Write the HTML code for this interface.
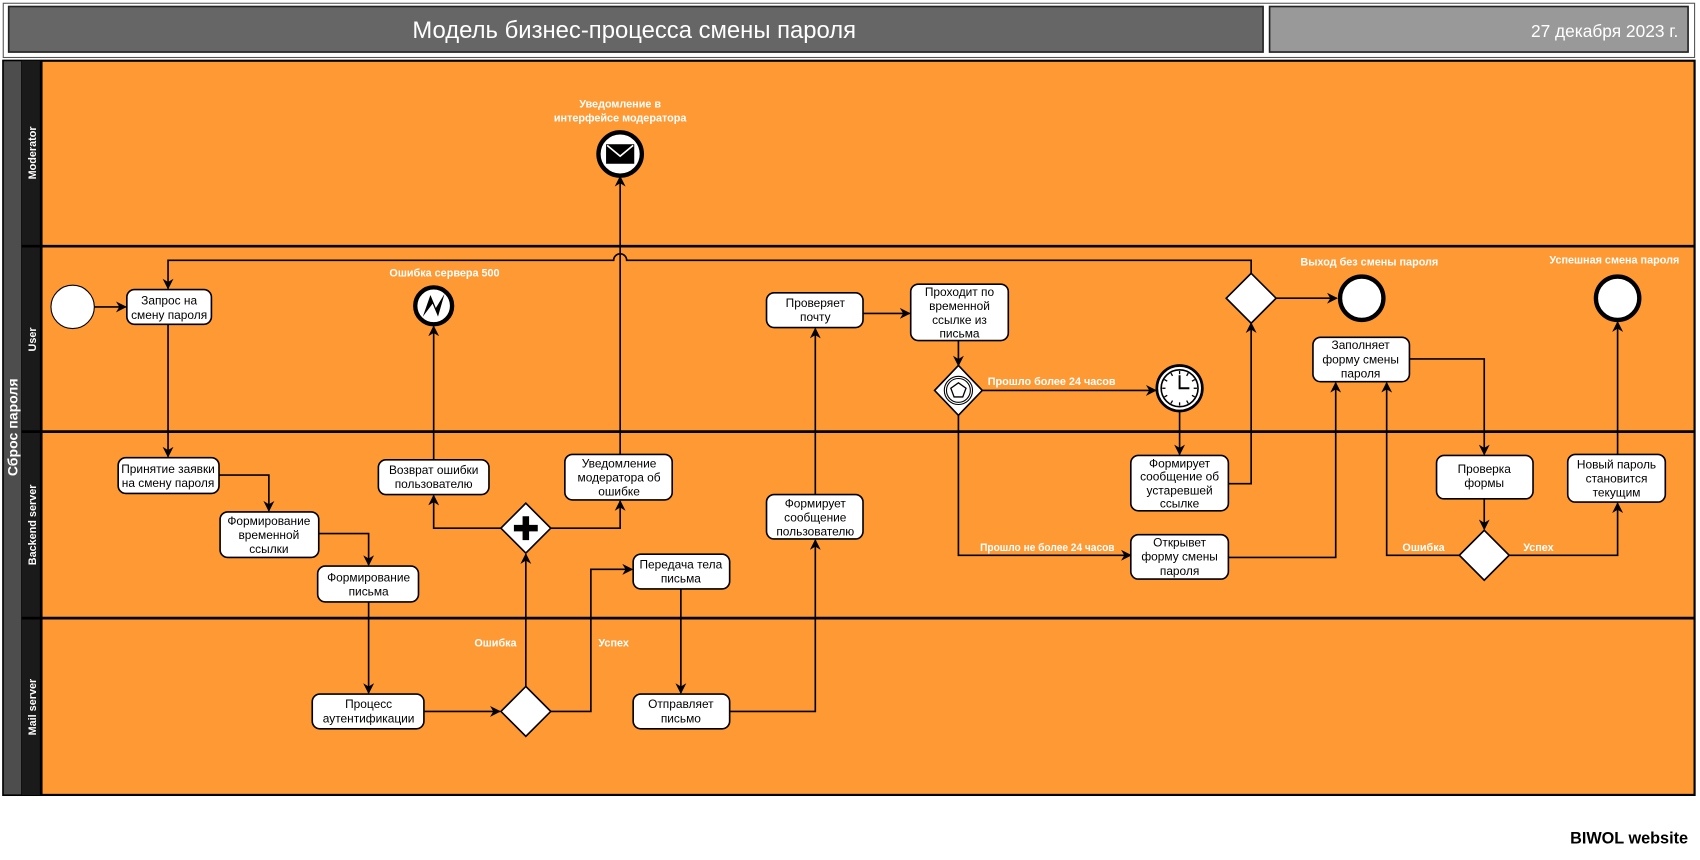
<!DOCTYPE html>
<html><head><meta charset="utf-8"><style>
html,body{margin:0;padding:0;background:#fff;}
svg{display:block;}
.b{fill:#fff;stroke:#000;stroke-width:1.5;}
.t{font-family:"Liberation Sans",sans-serif;font-size:11px;fill:#000;text-anchor:middle;}
.l{font-family:"Liberation Sans",sans-serif;font-size:10px;font-weight:bold;fill:#fff;text-anchor:middle;}
.c{fill:none;stroke:#000;stroke-width:1.5;}
</style></head><body>
<svg width="1700" height="860" viewBox="0 0 1568 793" preserveAspectRatio="none" xmlns="http://www.w3.org/2000/svg">
<defs><marker id="a" markerWidth="10" markerHeight="10" refX="9" refY="5" orient="auto" markerUnits="userSpaceOnUse"><path d="M0,0 L10,5 L0,10 L3,5 z" fill="#000"/></marker></defs>
<rect x="0" y="0" width="1568" height="793" fill="#fff"/>
<!-- header -->
<rect x="3" y="3" width="1560" height="50" fill="#fff" stroke="#555" stroke-width="1"/>
<rect x="8" y="6" width="1157" height="42" fill="#666" stroke="#222" stroke-width="1.5"/>
<text x="585" y="35" font-family="Liberation Sans,sans-serif" font-size="22" fill="#fff" text-anchor="middle">Модель бизнес-процесса смены пароля</text>
<rect x="1171" y="6" width="386" height="42" fill="#999" stroke="#222" stroke-width="1.5"/>
<text x="1548" y="34" font-family="Liberation Sans,sans-serif" font-size="16" fill="#fff" text-anchor="end">27 декабря 2023 г.</text>
<!-- pool -->
<rect x="3" y="56" width="1560" height="677" fill="#ff9933" stroke="#000" stroke-width="2"/>
<rect x="3" y="56" width="17" height="677" fill="#4d4d4d" stroke="#000" stroke-width="1"/>
<rect x="20" y="56" width="18" height="677" fill="#1a1a1a"/>
<g stroke="#000" stroke-width="2.5">
<line x1="20" y1="227" x2="1563" y2="227"/><line x1="20" y1="398" x2="1563" y2="398"/><line x1="20" y1="570" x2="1563" y2="570"/>
<line x1="38" y1="56" x2="38" y2="733"/></g>
<text transform="translate(16,394) rotate(-90)" font-family="Liberation Sans,sans-serif" font-size="13" font-weight="bold" fill="#fff" text-anchor="middle">Сброс пароля</text>
<g font-family="Liberation Sans,sans-serif" font-size="10" font-weight="bold" fill="#fff" text-anchor="middle">
<text transform="translate(33,141) rotate(-90)">Moderator</text>
<text transform="translate(33,313) rotate(-90)">User</text>
<text transform="translate(33,484) rotate(-90)">Backend server</text>
<text transform="translate(33,652) rotate(-90)">Mail server</text></g>
<!-- connectors -->
<g class="c">
<line x1="87" y1="283" x2="116" y2="283" marker-end="url(#a)"/>
<path d="M1154,253 V240 H578 a6,6 0 0 0 -12,0 H155 V266" marker-end="url(#a)"/>
<line x1="155" y1="299" x2="155" y2="421" marker-end="url(#a)"/>
<path d="M202,438 H248 V471" marker-end="url(#a)"/>
<path d="M294,492 H340 V521" marker-end="url(#a)"/>
<line x1="340" y1="555" x2="340" y2="639" marker-end="url(#a)"/>
<line x1="391" y1="656" x2="461" y2="656" marker-end="url(#a)"/>
<line x1="485" y1="633" x2="485" y2="511" marker-end="url(#a)"/>
<path d="M508,656 H545 V525 H583" marker-end="url(#a)"/>
<path d="M462,487 H400 V457" marker-end="url(#a)"/>
<path d="M508,487 H572 V462" marker-end="url(#a)"/>
<line x1="400" y1="424" x2="400" y2="301" marker-end="url(#a)"/>
<line x1="572" y1="419" x2="572" y2="163" marker-end="url(#a)"/>
<line x1="628" y1="543" x2="628" y2="639" marker-end="url(#a)"/>
<path d="M673,656 H752 V498" marker-end="url(#a)"/>
<line x1="752" y1="456" x2="752" y2="303" marker-end="url(#a)"/>
<line x1="796" y1="289" x2="839" y2="289" marker-end="url(#a)"/>
<line x1="884" y1="314" x2="884" y2="337" marker-end="url(#a)"/>
<line x1="906" y1="360" x2="1066" y2="360" marker-end="url(#a)"/>
<path d="M884,383 V512 H1043" marker-end="url(#a)"/>
<line x1="1088" y1="379" x2="1088" y2="419" marker-end="url(#a)"/>
<path d="M1133,446 H1154 V298" marker-end="url(#a)"/>
<line x1="1177" y1="275" x2="1233" y2="275" marker-end="url(#a)"/>
<path d="M1133,514 H1232 V353" marker-end="url(#a)"/>
<path d="M1300,331 H1369 V419" marker-end="url(#a)"/>
<line x1="1369" y1="460" x2="1369" y2="488" marker-end="url(#a)"/>
<path d="M1346,512 H1279 V353" marker-end="url(#a)"/>
<path d="M1392,512 H1492 V464" marker-end="url(#a)"/>
<line x1="1492" y1="419" x2="1492" y2="297" marker-end="url(#a)"/>
</g>
<!-- events -->
<circle cx="67" cy="283" r="20" fill="#fff" stroke="#000" stroke-width="1"/>
<circle cx="400" cy="282" r="17" fill="#fff" stroke="#000" stroke-width="4"/>
<path d="M390,292 L397,272 L402,284 L410,271 L404,292 L399,280 z" fill="#000"/>
<circle cx="572" cy="142" r="20" fill="#fff" stroke="#000" stroke-width="4"/>
<rect x="559" y="133" width="26" height="18" fill="#000"/>
<path d="M560,134 L572,144 L584,134" fill="none" stroke="#fff" stroke-width="1.5"/>
<circle cx="1088" cy="358" r="21" fill="#fff" stroke="#000" stroke-width="2.5"/>
<circle cx="1088" cy="358" r="17" fill="#fff" stroke="#000" stroke-width="1.5"/>
<g stroke="#000" stroke-width="1.2">
<line x1="1088" y1="342" x2="1088" y2="345"/><line x1="1088" y1="371" x2="1088" y2="374"/>
<line x1="1072" y1="358" x2="1075" y2="358"/><line x1="1101" y1="358" x2="1104" y2="358"/>
<line x1="1096" y1="344" x2="1094.5" y2="346.6"/><line x1="1080" y1="344" x2="1081.5" y2="346.6"/>
<line x1="1096" y1="372" x2="1094.5" y2="369.4"/><line x1="1080" y1="372" x2="1081.5" y2="369.4"/>
<line x1="1074" y1="350" x2="1076.6" y2="351.5"/><line x1="1102" y1="350" x2="1099.4" y2="351.5"/>
<line x1="1074" y1="366" x2="1076.6" y2="364.5"/><line x1="1102" y1="366" x2="1099.4" y2="364.5"/>
</g>
<path d="M1088,346 V358 H1097" fill="none" stroke="#000" stroke-width="1.8"/>
<circle cx="1256" cy="275" r="20" fill="#fff" stroke="#000" stroke-width="4"/>
<circle cx="1492" cy="275" r="20" fill="#fff" stroke="#000" stroke-width="4"/>
<!-- gateways -->
<g fill="#fff" stroke="#000" stroke-width="1.5">
<path d="M485,633 L508,656 L485,679 L462,656 z"/>
<path d="M485,464 L508,487 L485,510 L462,487 z"/>
<path d="M884,337 L906,360 L884,383 L862,360 z"/>
<path d="M1154,252 L1177,275 L1154,298 L1131,275 z"/>
<path d="M1369,489 L1392,512 L1369,535 L1346,512 z"/>
</g>
<path d="M482,476 h6 v8 h8 v6 h-8 v8 h-6 v-8 h-8 v-6 h8 z" fill="#000"/>
<circle cx="884" cy="360" r="13" fill="none" stroke="#000" stroke-width="1"/>
<circle cx="884" cy="360" r="11" fill="none" stroke="#000" stroke-width="1"/>
<path d="M884,353 L891,358 L888,366 L880,366 L877,358 z" fill="none" stroke="#000" stroke-width="1.2"/>
<!-- tasks -->
<g class="b">
<rect x="117" y="267" width="78" height="32" rx="7"/>
<rect x="109" y="422" width="93" height="33" rx="7"/>
<rect x="203" y="472" width="91" height="42" rx="7"/>
<rect x="293" y="522" width="93" height="33" rx="7"/>
<rect x="288" y="640" width="103" height="32" rx="7"/>
<rect x="349" y="424" width="102" height="32" rx="7"/>
<rect x="521" y="419" width="99" height="42" rx="7"/>
<rect x="584" y="511" width="89" height="32" rx="7"/>
<rect x="584" y="640" width="89" height="32" rx="7"/>
<rect x="707" y="456" width="89" height="41" rx="7"/>
<rect x="707" y="270" width="89" height="32" rx="7"/>
<rect x="840" y="262" width="90" height="52" rx="7"/>
<rect x="1043" y="420" width="90" height="51" rx="7"/>
<rect x="1043" y="493" width="90" height="41" rx="7"/>
<rect x="1211" y="311" width="89" height="41" rx="7"/>
<rect x="1325" y="420" width="89" height="40" rx="7"/>
<rect x="1446" y="419" width="90" height="44" rx="7"/>
</g>
<g class="t">
<text x="156" y="281">Запрос на</text><text x="156" y="294">смену пароля</text>
<text x="155" y="436">Принятие заявки</text><text x="155" y="449">на смену пароля</text>
<text x="248" y="484">Формирование</text><text x="248" y="497">временной</text><text x="248" y="510">ссылки</text>
<text x="340" y="536">Формирование</text><text x="340" y="549">письма</text>
<text x="340" y="653">Процесс</text><text x="340" y="666">аутентификации</text>
<text x="400" y="437">Возврат ошибки</text><text x="400" y="450">пользователю</text>
<text x="571" y="431">Уведомление</text><text x="571" y="444">модератора об</text><text x="571" y="457">ошибке</text>
<text x="628" y="524">Передача тела</text><text x="628" y="537">письма</text>
<text x="628" y="653">Отправляет</text><text x="628" y="666">письмо</text>
<text x="752" y="468">Формирует</text><text x="752" y="481">сообщение</text><text x="752" y="494">пользователю</text>
<text x="885" y="273">Проходит по</text><text x="885" y="286">временной</text><text x="885" y="299">ссылке из</text><text x="885" y="311">письма</text>
<text x="752" y="283">Проверяет</text><text x="752" y="296">почту</text>
<text x="1088" y="431">Формирует</text><text x="1088" y="443">сообщение об</text><text x="1088" y="456">устаревшей</text><text x="1088" y="468">ссылке</text>
<text x="1088" y="504">Открывет</text><text x="1088" y="517">форму смены</text><text x="1088" y="530">пароля</text>
<text x="1255" y="322">Заполняет</text><text x="1255" y="335">форму смены</text><text x="1255" y="348">пароля</text>
<text x="1369" y="436">Проверка</text><text x="1369" y="449">формы</text>
<text x="1491" y="432">Новый пароль</text><text x="1491" y="445">становится</text><text x="1491" y="458">текущим</text>
</g>
<g class="l">
<text x="410" y="255">Ошибка сервера 500</text>
<text x="572" y="99">Уведомление в</text><text x="572" y="112">интерфейсе модератора</text>
<text x="457" y="596">Ошибка</text><text x="566" y="596">Успех</text>
<text x="970" y="355">Прошло более 24 часов</text>
<text x="966" y="508" textLength="124" lengthAdjust="spacingAndGlyphs">Прошло не более 24 часов</text>
<text x="1263" y="245">Выход без смены пароля</text>
<text x="1489" y="243">Успешная смена пароля</text>
<text x="1313" y="508">Ошибка</text><text x="1419" y="508">Успех</text>
</g>
<text x="1557" y="778" font-family="Liberation Sans,sans-serif" font-size="15" font-weight="bold" fill="#000" text-anchor="end">BIWOL website</text>
</svg>
</body></html>
